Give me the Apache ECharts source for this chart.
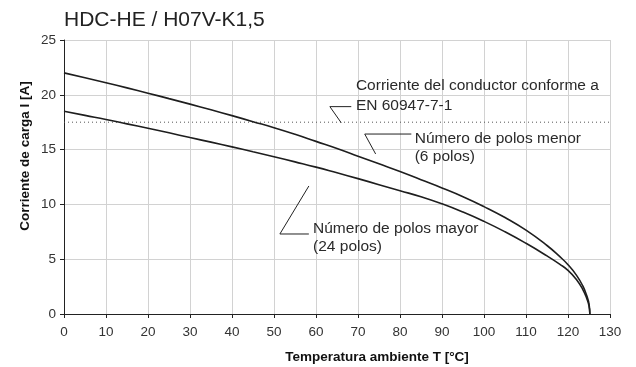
<!DOCTYPE html>
<html lang="es">
<head>
    <meta charset="utf-8">
    <title>HDC-HE / H07V-K1,5</title>
    <script src="https://cdn.jsdelivr.net/npm/echarts/dist/echarts.min.js"></script>
    <style type="text/css">
        html, body {
            width: 100%;
            height: 100%;
            margin: 0px;
            padding: 0px;
            background: #fff;
        }

        #main {
            width: 636px;
            height: 367px;
        }
    </style>
</head>
<body>
<div id="main"></div>
<script>
    // valores (temperatura en °C, corriente en A)
    var temps = [0, 5, 10, 15, 20, 25, 30, 35, 40, 45, 50, 55, 60, 65, 70, 75, 80, 85, 90, 95, 100,
                 105, 110, 115, 118, 120, 122, 123.5, 124.5, 125, 125.2];
    var corrMenor = [22.0, 21.55, 21.1, 20.63, 20.15, 19.65, 19.15, 18.63, 18.1, 17.55, 17.0, 16.4, 15.75,
                     15.1, 14.4, 13.7, 13.0, 12.25, 11.5, 10.7, 9.8,
                     8.8, 7.65, 6.25, 5.25, 4.5, 3.55, 2.58, 1.63, 0.93, 0];
    var corrMayor = [18.5, 18.12, 17.75, 17.35, 16.95, 16.53, 16.1, 15.68, 15.25, 14.8, 14.35, 13.88, 13.4,
                     12.88, 12.35, 11.8, 11.25, 10.7, 10.05, 9.3, 8.45,
                     7.5, 6.45, 5.3, 4.55, 3.98, 3.15, 2.25, 1.38, 0.75, 0];
    var corrConductor = 17.5;

    var xTicks = [0, 130, 10];   // min, max, intervalo
    var yTicks = [0, 25, 5];

    // anotaciones: texto en coordenadas de datos + linea guia
    var notas = [
        {lineas: [['Corriente del conductor conforme a', 69.5, 20.85], ['EN 60947-7-1', 69.5, 19.0]],
         guia: [[66.0, 17.45], [63.3, 18.92], [68.4, 18.92]]},
        {lineas: [['Número de polos menor', 83.5, 16.0], ['(6 polos)', 83.5, 14.35]],
         guia: [[74.2, 14.6], [71.6, 16.42], [82.7, 16.42]]},
        {lineas: [['Número de polos mayor', 59.3, 7.82], ['(24 polos)', 59.3, 6.14]],
         guia: [[58.3, 11.68], [51.4, 7.3], [58.3, 7.3]]}
    ];

    var fuente = '"Liberation Sans", Arial, Helvetica, sans-serif';

    var myChart = echarts.init(document.getElementById('main'), null, {renderer: 'canvas'});

    function pares(xs, ys) {
        var out = [];
        for (var i = 0; i < xs.length; i++) {
            out.push([xs[i], ys[i]]);
        }
        return out;
    }

    var series = [
        {
            name: '6 polos',
            type: 'line',
            data: pares(temps, corrMenor),
            smooth: 0.5,
            symbol: 'none',
            lineStyle: {color: '#1e1e1e', width: 1.6},
            z: 5
        },
        {
            name: '24 polos',
            type: 'line',
            data: pares(temps, corrMayor),
            smooth: 0.5,
            symbol: 'none',
            lineStyle: {color: '#1e1e1e', width: 1.6},
            z: 5
        },
        {
            name: 'EN 60947-7-1',
            type: 'line',
            data: [[xTicks[0], corrConductor], [xTicks[1], corrConductor]],
            symbol: 'none',
            lineStyle: {color: '#555', width: 1, type: [1, 3]},
            z: 4
        }
    ];

    // lineas guia de las anotaciones
    notas.forEach(function (n) {
        series.push({
            type: 'line',
            data: n.guia,
            symbol: 'none',
            silent: true,
            lineStyle: {color: '#222', width: 1},
            z: 6
        });
    });

    var option = {
        backgroundColor: '#fff',
        animation: false,
        title: {
            text: 'HDC-HE / H07V-K1,5',
            left: 64,
            top: 10,
            padding: 0,
            textStyle: {
                fontFamily: fuente,
                fontSize: 21,
                fontWeight: 'normal',
                color: '#222'
            }
        },
        grid: {
            left: 64,
            right: 26,
            top: 40,
            bottom: 53
        },
        xAxis: {
            type: 'value',
            min: xTicks[0],
            max: xTicks[1],
            interval: xTicks[2],
            axisLine: {lineStyle: {color: '#222', width: 1}},
            axisTick: {show: true, length: 4, lineStyle: {color: '#222'}},
            axisLabel: {
                margin: 11,
                fontFamily: fuente,
                fontSize: 13.5,
                color: '#333'
            },
            splitLine: {show: true, lineStyle: {color: '#d2d2d2', width: 1}}
        },
        yAxis: {
            type: 'value',
            min: yTicks[0],
            max: yTicks[1],
            interval: yTicks[2],
            axisLine: {show: true, lineStyle: {color: '#222', width: 1}},
            axisTick: {show: true, length: 4, lineStyle: {color: '#222'}},
            axisLabel: {
                margin: 8,
                fontFamily: fuente,
                fontSize: 13.5,
                color: '#333'
            },
            splitLine: {show: true, lineStyle: {color: '#d2d2d2', width: 1}}
        },
        series: series
    };

    myChart.setOption(option);

    // textos: anotaciones y nombres de ejes
    var graficos = [];
    notas.forEach(function (n) {
        n.lineas.forEach(function (l) {
            var p = myChart.convertToPixel({gridIndex: 0}, [l[1], l[2]]);
            graficos.push({
                type: 'text',
                x: p[0],
                y: p[1],
                silent: true,
                z: 10,
                style: {
                    text: l[0],
                    fontFamily: fuente,
                    fontSize: 15.5,
                    fill: '#2a2a2a',
                    textAlign: 'left',
                    textVerticalAlign: 'middle'
                }
            });
        });
    });

    graficos.push({
        type: 'text',
        x: 377,
        y: 357,
        silent: true,
        style: {
            text: 'Temperatura ambiente T [°C]',
            fontFamily: fuente,
            fontSize: 13.5,
            fontWeight: 'bold',
            fill: '#111',
            textAlign: 'center',
            textVerticalAlign: 'middle'
        }
    });
    graficos.push({
        type: 'text',
        x: 25,
        y: 156,
        rotation: Math.PI / 2,
        silent: true,
        style: {
            text: 'Corriente de carga I [A]',
            fontFamily: fuente,
            fontSize: 13.5,
            fontWeight: 'bold',
            fill: '#111',
            textAlign: 'center',
            textVerticalAlign: 'middle'
        }
    });

    myChart.setOption({graphic: graficos});
</script>
</body>
</html>
